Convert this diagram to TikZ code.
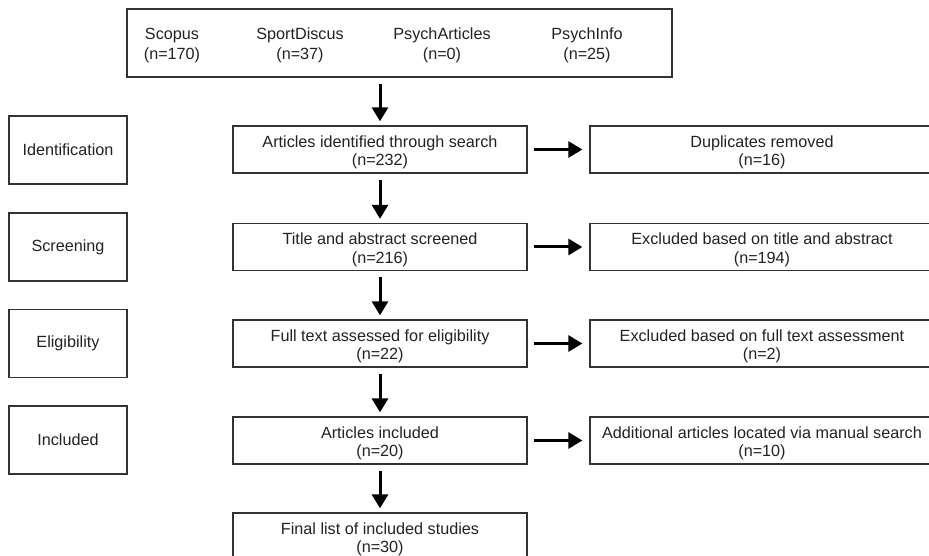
\documentclass[tikz,border=0pt]{standalone}
\usepackage{fontspec}
\setmainfont{Liberation Sans}
\usetikzlibrary{arrows.meta}
\definecolor{boxline}{HTML}{333333}
\definecolor{txt}{HTML}{222222}
\newcommand{\lowstrut}{\rule{0pt}{17pt}}
\tikzset{
  box/.style={draw=boxline, line width=1.3pt, rectangle, align=center, inner sep=0pt,
    text=txt, font=\fontsize{16.2}{18.5}\selectfont},
  srcbox/.style={box, minimum width=545pt, minimum height=68pt},
  stagebox/.style={box, minimum width=118pt, minimum height=68pt},
  midbox/.style={box, minimum width=294pt, minimum height=47pt},
  sidebox/.style={box, minimum width=344pt, minimum height=47pt},
  src/.style={align=center, inner sep=0pt, text=txt, font=\fontsize{16.2}{19.5}\selectfont},
  flow/.style={line width=3pt, -{Triangle[width=16pt,length=14pt]}},
}
\begin{document}
\begin{tikzpicture}[x=1pt,y=-1pt]
\useasboundingbox (0,0) rectangle (929,556);
% source box
\node[srcbox] (srcs) at (399.5,43) {};
\node[src] (scopus) at (172,45.5) {Scopus\\(n=170)};
\node[src] (sport) at (300,45.5) {SportDiscus\\(n=37)};
\node[src] (parts) at (442,45.5) {PsychArticles\\(n=0)};
\node[src] (pinfo) at (587,45.5) {PsychInfo\\(n=25)};
% stage boxes
\node[stagebox] (ident) at (68,150) {Identification};
\node[stagebox] (screen) at (68,247) {Screening};
\node[stagebox] (elig) at (68,343.5) {Eligibility};
\node[stagebox] (incl) at (68,440) {Included};
% middle column
\node[midbox] (m1) at (380,149.5) {\lowstrut Articles identified through search\\(n=232)};
\node[midbox] (m2) at (380,247) {\lowstrut Title and abstract screened\\(n=216)};
\node[midbox] (m3) at (380,343.5) {\lowstrut Full text assessed for eligibility\\(n=22)};
\node[midbox] (m4) at (380,440.5) {\lowstrut Articles included\\(n=20)};
\node[midbox] (m5) at (380,536.5) {\lowstrut Final list of included studies\\(n=30)};
% right column
\node[sidebox] (r1) at (762,149.5) {\lowstrut Duplicates removed\\(n=16)};
\node[sidebox] (r2) at (762,247) {\lowstrut Excluded based on title and abstract\\(n=194)};
\node[sidebox] (r3) at (762,343.5) {\lowstrut Excluded based on full text assessment\\(n=2)};
\node[sidebox] (r4) at (762,440.5) {\lowstrut Additional articles located via manual search\\(n=10)};
% vertical arrows
\draw[flow, shorten <=6pt, shorten >=4pt] (m1.north |- srcs.south) -- (m1.north);
\draw[flow, shorten <=6pt, shorten >=4pt] (m1.south) -- (m2.north);
\draw[flow, shorten <=6pt, shorten >=4pt] (m2.south) -- (m3.north);
\draw[flow, shorten <=6pt, shorten >=4pt] (m3.south) -- (m4.north);
\draw[flow, shorten <=6pt, shorten >=4pt] (m4.south) -- (m5.north);
% horizontal arrows
\draw[flow, shorten <=6pt, shorten >=7pt] (m1.east) -- (r1.west);
\draw[flow, shorten <=6pt, shorten >=7pt] (m2.east) -- (r2.west);
\draw[flow, shorten <=6pt, shorten >=7pt] (m3.east) -- (r3.west);
\draw[flow, shorten <=6pt, shorten >=7pt] (m4.east) -- (r4.west);
\end{tikzpicture}
\end{document}
